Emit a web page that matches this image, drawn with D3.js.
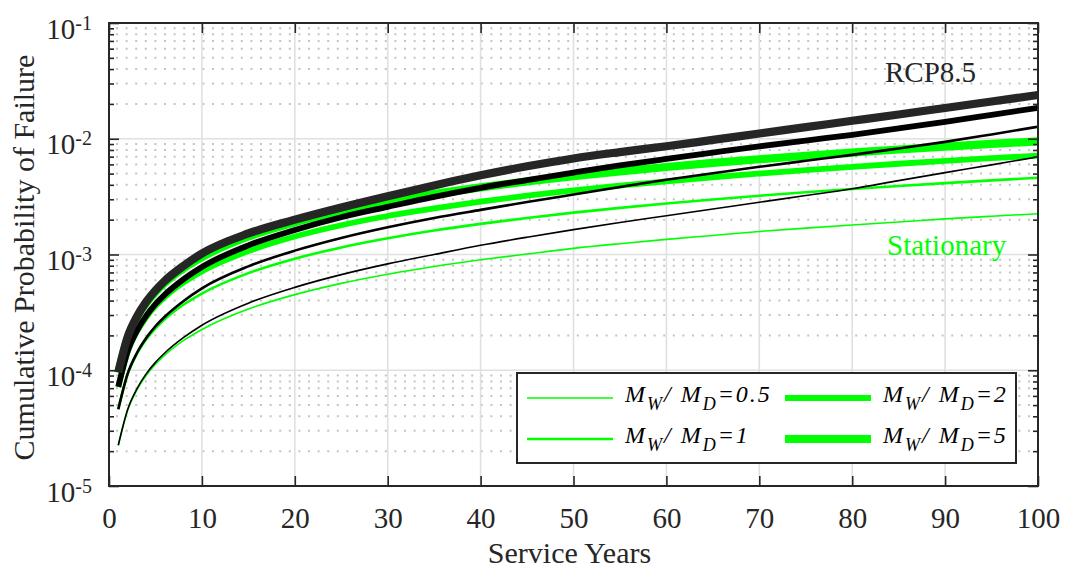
<!DOCTYPE html>
<html>
<head>
<meta charset="utf-8">
<script src="https://cdn.jsdelivr.net/npm/d3@7"></script>
<style>
  html, body { margin: 0; padding: 0; background: #fff; }
  svg { display: block; }
  text { font-family: "Liberation Serif", "Times New Roman", serif; }
</style>
</head>
<body>
<svg id="chart" width="1066" height="570"></svg>
<script>
// ---------------- data ----------------
const years = [1, 2, 3, 4, 5, 6, 8, 10, 15, 20, 25, 30, 35, 40, 45, 50, 55, 60, 65, 70, 75, 80, 85, 90, 95, 100];

// Stationary (green)
const stat05 = [2.25e-5, 4.5e-5, 6.75e-5, 9.0e-5, 1.125e-4, 1.35e-4, 1.8e-4, 2.25e-4, 3.38e-4, 4.5e-4, 5.63e-4, 6.75e-4, 7.88e-4, 9.0e-4, 1.01e-3, 1.13e-3, 1.24e-3, 1.35e-3, 1.46e-3, 1.58e-3, 1.69e-3, 1.8e-3, 1.91e-3, 2.03e-3, 2.14e-3, 2.25e-3];
const stat1 = [4.6e-5, 9.2e-5, 1.38e-4, 1.84e-4, 2.3e-4, 2.76e-4, 3.68e-4, 4.6e-4, 6.9e-4, 9.2e-4, 1.15e-3, 1.38e-3, 1.61e-3, 1.84e-3, 2.07e-3, 2.3e-3, 2.53e-3, 2.76e-3, 2.99e-3, 3.22e-3, 3.45e-3, 3.68e-3, 3.91e-3, 4.14e-3, 4.37e-3, 4.6e-3];
const stat2 = [7.15e-5, 1.43e-4, 2.15e-4, 2.86e-4, 3.58e-4, 4.29e-4, 5.72e-4, 7.15e-4, 1.07e-3, 1.43e-3, 1.79e-3, 2.15e-3, 2.5e-3, 2.86e-3, 3.22e-3, 3.58e-3, 3.93e-3, 4.29e-3, 4.65e-3, 5.0e-3, 5.36e-3, 5.72e-3, 6.08e-3, 6.44e-3, 6.79e-3, 7.15e-3];
const stat5 = [9.5e-5, 1.9e-4, 2.85e-4, 3.8e-4, 4.75e-4, 5.7e-4, 7.6e-4, 9.5e-4, 1.43e-3, 1.9e-3, 2.38e-3, 2.85e-3, 3.33e-3, 3.8e-3, 4.28e-3, 4.75e-3, 5.23e-3, 5.7e-3, 6.18e-3, 6.65e-3, 7.13e-3, 7.6e-3, 8.08e-3, 8.55e-3, 9.03e-3, 9.5e-3];

// RCP8.5 (black)
const rcp05 = [2.25e-5, 4.55e-5, 6.9e-5, 9.3e-5, 1.17e-4, 1.41e-4, 1.91e-4, 2.45e-4, 3.8e-4, 5.2e-4, 6.7e-4, 8.3e-4, 1.0e-3, 1.2e-3, 1.41e-3, 1.64e-3, 1.89e-3, 2.16e-3, 2.47e-3, 2.83e-3, 3.23e-3, 3.7e-3, 4.35e-3, 5.1e-3, 5.95e-3, 6.98e-3];
const rcp1 = [4.6e-5, 9.3e-5, 1.41e-4, 1.9e-4, 2.4e-4, 2.9e-4, 3.95e-4, 5.1e-4, 7.9e-4, 1.08e-3, 1.39e-3, 1.72e-3, 2.07e-3, 2.43e-3, 2.84e-3, 3.3e-3, 3.83e-3, 4.42e-3, 5.03e-3, 5.72e-3, 6.45e-3, 7.26e-3, 8.25e-3, 9.4e-3, 1.09e-2, 1.27e-2];
const rcp2 = [7.2e-5, 1.45e-4, 2.19e-4, 2.95e-4, 3.72e-4, 4.5e-4, 6.1e-4, 7.8e-4, 1.2e-3, 1.63e-3, 2.1e-3, 2.58e-3, 3.15e-3, 3.77e-3, 4.4e-3, 5.1e-3, 5.88e-3, 6.7e-3, 7.6e-3, 8.6e-3, 9.65e-3, 1.08e-2, 1.23e-2, 1.4e-2, 1.61e-2, 1.85e-2];
const rcp5 = [9.6e-5, 1.93e-4, 2.9e-4, 3.9e-4, 4.9e-4, 5.92e-4, 7.95e-4, 1.02e-3, 1.52e-3, 2.0e-3, 2.55e-3, 3.19e-3, 3.95e-3, 4.83e-3, 5.78e-3, 6.76e-3, 7.67e-3, 8.61e-3, 9.77e-3, 1.109e-2, 1.259e-2, 1.429e-2, 1.622e-2, 1.845e-2, 2.1e-2, 2.39e-2];

const ratioLabels = ["0.5", "1", "2", "5"];
const xTicks = [0, 10, 20, 30, 40, 50, 60, 70, 80, 90, 100];
const yTicks = [1e-5, 1e-4, 1e-3, 1e-2, 1e-1];
const yTickExponents = ["-5", "-4", "-3", "-2", "-1"];
const xLabel = "Service Years";
const yLabel = "Cumulative Probability of Failure";

// ---------------- layout / style ----------------
const L = 109, R = 1038, T = 23, B = 486;
const widths = [1.6, 2.6, 5.8, 8.2];
const GREEN = "#00ff00";
const blackColors = ["#000000", "#000000", "#000000", "#262626"];
const AX = "#262626";
const SERIF = '"Liberation Serif", "Times New Roman", serif';

const svg = d3.select("#chart");
const x = d3.scaleLinear().domain([0, 100]).range([L, R]);
const y = d3.scaleLog().domain([1e-5, 1e-1]).range([B, T]);

// minor grid (dotted)
const minorY = [];
for (let e = -5; e < -1; e++) for (let m = 2; m <= 9; m++) minorY.push(m * Math.pow(10, e));
svg.append("g").selectAll("line").data(minorY).join("line")
  .attr("x1", L).attr("x2", R).attr("y1", d => y(d)).attr("y2", d => y(d))
  .attr("stroke", "#c4c4c4").attr("stroke-width", 2).attr("stroke-dasharray", "2 7.6")
  .attr("stroke-dashoffset", -7);

// major grid
svg.append("g").selectAll("line").data(xTicks.slice(1, -1)).join("line")
  .attr("x1", d => x(d)).attr("x2", d => x(d)).attr("y1", T).attr("y2", B)
  .attr("stroke", "#e0e0e0").attr("stroke-width", 1.6);
svg.append("g").selectAll("line").data(yTicks.slice(1, -1)).join("line")
  .attr("x1", L).attr("x2", R).attr("y1", d => y(d)).attr("y2", d => y(d))
  .attr("stroke", "#e0e0e0").attr("stroke-width", 1.6);

// curves
const line = d3.line().x((d, i) => x(years[i])).y(d => y(d)).curve(d3.curveMonotoneX);
const greens = [stat05, stat1, stat2, stat5];
const blacks = [rcp05, rcp1, rcp2, rcp5];
const curves = svg.append("g");
greens.forEach((s, i) => {
  curves.append("path").attr("d", line(s)).attr("fill", "none")
    .attr("stroke", GREEN).attr("stroke-width", widths[i]).attr("stroke-linejoin", "round");
});
blacks.forEach((s, i) => {
  curves.append("path").attr("d", line(s)).attr("fill", "none")
    .attr("stroke", blackColors[i]).attr("stroke-width", widths[i]).attr("stroke-linejoin", "round");
});

// axes
const fontTick = 29;
const gx = svg.append("g").attr("transform", `translate(0,${B})`)
  .call(d3.axisBottom(x).tickValues(xTicks).tickSizeInner(-10).tickSizeOuter(0).tickPadding(21));
gx.attr("font-family", SERIF);
gx.selectAll("text").attr("font-size", fontTick).attr("fill", AX).style("font-family", SERIF);
svg.append("g").attr("transform", `translate(0,${T})`)
  .call(d3.axisTop(x).tickValues(xTicks).tickSizeInner(-10).tickSizeOuter(0).tickFormat(""));

const gy = svg.append("g").attr("transform", `translate(${L},0)`)
  .call(d3.axisLeft(y).tickValues(yTicks).tickSizeInner(-10).tickSizeOuter(0).tickPadding(17).tickFormat(""));
gy.attr("font-family", SERIF);
gy.selectAll(".tick text").each(function (d, i) {
  const t = d3.select(this).attr("dy", null).attr("y", 15).attr("fill", AX)
    .attr("font-size", fontTick).style("font-family", SERIF);
  t.append("tspan").text("10");
  t.append("tspan").attr("font-size", 20).attr("dy", -9).text(yTickExponents[i]);
});
svg.append("g").attr("transform", `translate(${R},0)`)
  .call(d3.axisRight(y).tickValues(yTicks).tickSizeInner(-10).tickSizeOuter(0).tickFormat(""));
// minor ticks
svg.append("g").attr("transform", `translate(${L},0)`)
  .call(d3.axisLeft(y).tickValues(minorY).tickSizeInner(-5).tickSizeOuter(0).tickFormat(""));
svg.append("g").attr("transform", `translate(${R},0)`)
  .call(d3.axisRight(y).tickValues(minorY).tickSizeInner(-5).tickSizeOuter(0).tickFormat(""));

svg.selectAll(".domain").remove();
svg.selectAll(".tick line").attr("stroke", AX).attr("stroke-width", 1.6);

// box
svg.append("rect").attr("x", L).attr("y", T).attr("width", R - L).attr("height", B - T)
  .attr("fill", "none").attr("stroke", AX).attr("stroke-width", 2);

// axis labels
svg.append("text").attr("x", (L + R) / 2 - 4).attr("y", 563).attr("text-anchor", "middle")
  .attr("font-size", 30).attr("fill", AX).text(xLabel);
svg.append("text").attr("transform", `translate(34,${(T + B) / 2 + 3}) rotate(-90)`)
  .attr("text-anchor", "middle").attr("font-size", 30).attr("fill", AX).text(yLabel);

// annotations
svg.append("text").attr("x", 885).attr("y", 82).attr("font-size", 29).attr("fill", AX).text("RCP8.5");
svg.append("text").attr("x", 887).attr("y", 255).attr("font-size", 29).attr("fill", GREEN).text("Stationary");

// legend
const lg = svg.append("g");
lg.append("rect").attr("x", 517).attr("y", 373).attr("width", 499).attr("height", 90)
  .attr("fill", "#fff").attr("stroke", AX).attr("stroke-width", 2);
const legPos = [
  { lx: 527, ty: 398 }, { lx: 527, ty: 439 }, { lx: 785, ty: 398 }, { lx: 785, ty: 439 }
];
ratioLabels.forEach((lab, i) => {
  const p = legPos[i];
  lg.append("line").attr("x1", p.lx).attr("x2", p.lx + 86).attr("y1", p.ty).attr("y2", p.ty)
    .attr("stroke", GREEN).attr("stroke-width", widths[i]);
  const t = lg.append("text").attr("x", p.lx + 98).attr("y", p.ty + 4)
    .attr("font-size", 24).attr("font-style", "italic").attr("fill", "#000")
    .attr("letter-spacing", 2);
  t.append("tspan").text("M");
  t.append("tspan").attr("font-size", 18).attr("dy", 8).text("W");
  t.append("tspan").attr("dy", -8).text("/ M");
  t.append("tspan").attr("font-size", 18).attr("dy", 8).text("D");
  t.append("tspan").attr("dy", -8).text("=" + lab);
});
</script>
</body>
</html>
